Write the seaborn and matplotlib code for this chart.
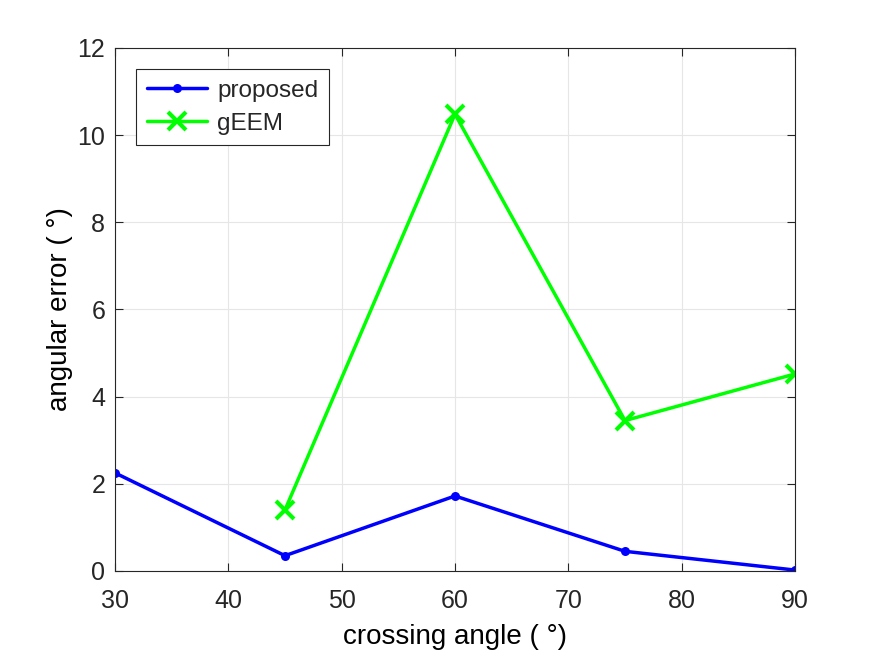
import numpy as np
import pandas as pd
import matplotlib
matplotlib.use('Agg')
import matplotlib.pyplot as plt
import seaborn as sns

crossing_angle = [30, 45, 60, 75, 90]
proposed = [2.25, 0.35, 1.72, 0.45, 0.02]
geem = [np.nan, 1.40, 10.48, 3.45, 4.52]

sns.set_theme(style='white')
plt.rcParams['font.family'] = ['Liberation Sans', 'DejaVu Sans']

df = pd.DataFrame({'angle': crossing_angle, 'proposed': proposed, 'gEEM': geem})

fig = plt.figure(figsize=(8.75, 6.57), dpi=100)
ax = fig.add_axes([0.1314, 0.131, 0.7772, 0.796])

blue = (0, 0, 1)
green = (0, 1, 0)
sns.lineplot(data=df, x='angle', y='proposed', ax=ax, color=blue, linewidth=2.5,
             marker='o', markersize=6.5, markeredgewidth=0, markerfacecolor=blue,
             label='proposed')
sns.lineplot(data=df.dropna(), x='angle', y='gEEM', ax=ax, color=green, linewidth=2.5,
             marker='x', markersize=13, markeredgewidth=3, markeredgecolor=green,
             label='gEEM')

ax.set_xlim(30, 90)
ax.set_ylim(0, 12)
ax.set_xticks(range(30, 91, 10))
ax.set_yticks(range(0, 13, 2))

edge = '#262626'
ax.grid(True, color='#e6e6e6', linewidth=0.8)
for s in ax.spines.values():
    s.set_color(edge)
    s.set_linewidth(0.8)
    s.set_visible(True)
ax.tick_params(direction='in', length=6, width=0.8, colors=edge, labelsize=18,
               top=True, right=True, bottom=True, left=True, labelcolor=edge)
ax.tick_params(axis='x', pad=13)
ax.tick_params(axis='y', pad=7)

ax.set_xlabel('crossing angle ( °)', fontsize=20, color='black', labelpad=8)
ax.set_ylabel('angular error ( °)', fontsize=20, color='black', labelpad=3)

leg = ax.legend(loc='upper left', fontsize=17.5, frameon=True, fancybox=False,
                edgecolor=edge, framealpha=1, borderaxespad=0.85, handlelength=2.5,
                borderpad=0.45, labelspacing=0.45, handletextpad=0.4)
leg.get_frame().set_linewidth(0.8)

fig.savefig('out.png', dpi=100)
